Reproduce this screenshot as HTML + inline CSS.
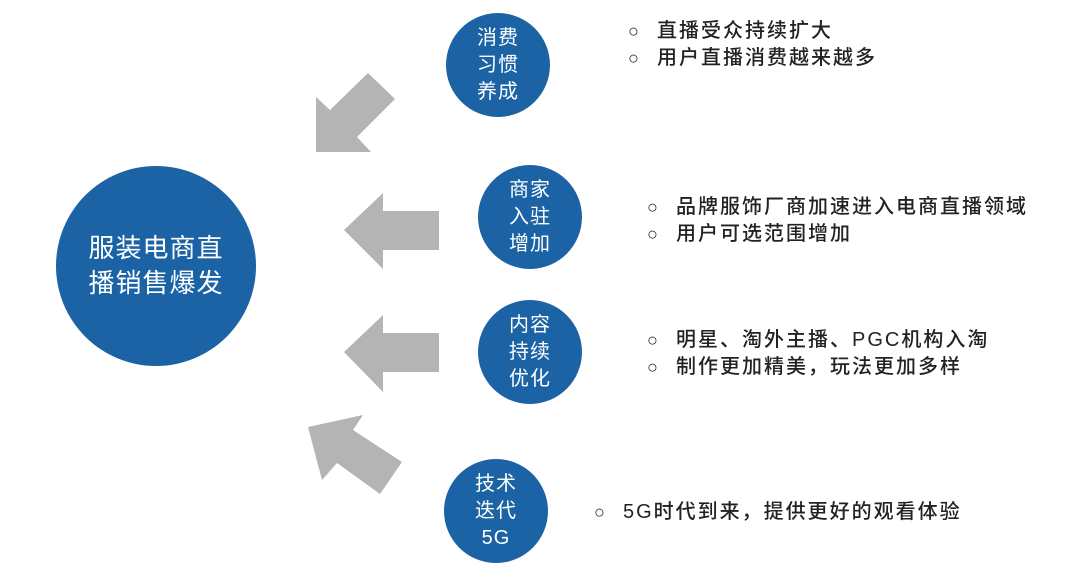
<!DOCTYPE html>
<html><head><meta charset="utf-8"><style>
body{margin:0;width:1080px;height:585px;background:#fff;overflow:hidden;position:relative;font-family:"Liberation Sans","Noto Sans CJK SC",sans-serif}
.c{position:absolute;border-radius:50%;background:#1b63a5;color:#fff;display:flex;align-items:center;justify-content:center;text-align:center}
.s{width:104px;height:104px;font-size:20px;line-height:27px;letter-spacing:1px}
.t{position:absolute;font-size:20px;color:#222;line-height:27px;white-space:nowrap;letter-spacing:2px;font-weight:500;font-family:"Liberation Sans","Noto Sans CJK SC",sans-serif}
.t span{display:inline-block;width:29px;letter-spacing:0;font-weight:normal;font-size:18px}
</style></head><body>
<svg width="1080" height="585" style="position:absolute;left:0;top:0">
<g fill="#b4b4b4">
<polygon points="316,97 330,110 368,73 395,99 357,137 371,152 316,152"/>
<polygon points="344,230 383,193 383,211 439,211 439,250 383,250 383,269"/>
<polygon points="344,352 383,315 383,333 439,333 439,372 383,372 383,392"/>
<polygon points="308,427 363,415 353,430 402,462 380,494 337,463 322,480"/>
</g></svg>
<div class="c" style="left:56px;top:166px;width:200px;height:200px;font-size:26px;line-height:35px;letter-spacing:1px">服装电商直<br>播销售爆发</div>
<div class="c s" style="left:446px;top:13px">消费<br>习惯<br>养成</div>
<div class="c s" style="left:478px;top:165px">商家<br>入驻<br>增加</div>
<div class="c s" style="left:478px;top:300px">内容<br>持续<br>优化</div>
<div class="c s" style="left:444px;top:459px">技术<br>迭代<br>5G</div>
<div class="t" style="left:628px;top:18px"><span>○</span>直播受众持续扩大<br><span>○</span>用户直播消费越来越多</div>
<div class="t" style="left:647px;top:194px"><span>○</span>品牌服饰厂商加速进入电商直播领域<br><span>○</span>用户可选范围增加</div>
<div class="t" style="left:647px;top:327px"><span>○</span>明星、淘外主播、PGC机构入淘<br><span>○</span>制作更加精美，玩法更加多样</div>
<div class="t" style="left:594px;top:499px"><span>○</span>5G时代到来，提供更好的观看体验</div>
</body></html>
